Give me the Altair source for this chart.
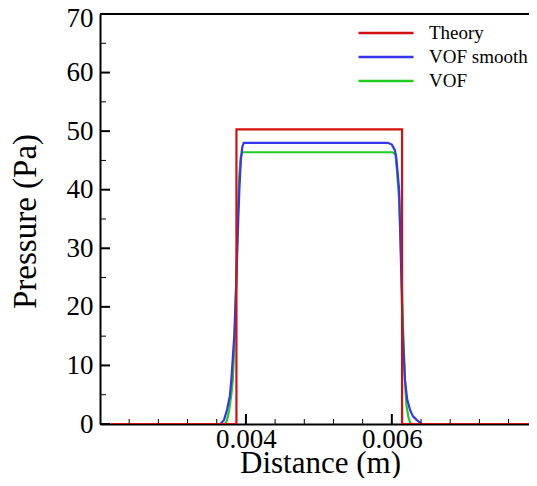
import altair as alt
import pandas as pd

FONT = "Liberation Serif, Times New Roman, DejaVu Serif, serif"

series_names = ["Theory", "VOF smooth", "VOF"]
series_colors = ["#d40f0f", "#3535f0", "#1fcc1f"]

theory_x = [0.00215, 0.00387, 0.00387, 0.00614, 0.00614, 0.0080]
theory_p = [0, 0, 50.3, 50.3, 0, 0]

smooth_x = [0.00215, 0.00365, 0.00370, 0.00374, 0.00378, 0.00380, 0.00384, 0.00387,
            0.00389, 0.00391, 0.00393, 0.00395, 0.00397, 0.005945, 0.00600, 0.00604,
            0.00606, 0.00610, 0.00613, 0.00615, 0.00618, 0.00621, 0.00625, 0.00629,
            0.00634, 0.00641, 0.0080]
smooth_p = [0, 0, 0.7, 2.4, 4.8, 7.5, 15, 25,
            33, 40, 45, 47.3, 48.0, 48.0, 47.7, 46.8,
            45.6, 40, 25, 15, 7.5, 4.2, 2.4, 1.3,
            0.7, 0, 0]

vof_x = [0.00215, 0.00371, 0.00374, 0.00377, 0.00380, 0.00382, 0.00385, 0.00387,
         0.00389, 0.00391, 0.00393, 0.00395, 0.00601, 0.00605, 0.00607, 0.00610,
         0.00613, 0.00615, 0.00618, 0.00620, 0.00623, 0.00626, 0.0080]
vof_p = [0, 0, 0.6, 2.4, 5, 7.5, 16, 26,
         36, 42.5, 45.6, 46.4, 46.4, 46.0, 43.4, 38.3,
         28, 17.8, 7.5, 3.2, 1, 0, 0]

x_labels = [0.004, 0.006]
x_major = [0.002, 0.004, 0.006]
x_minor = [0.0024, 0.0028, 0.0032, 0.0036, 0.0044, 0.0048, 0.0052, 0.0056,
           0.0064, 0.0068, 0.0072, 0.0076]
y_major = [0, 10, 20, 30, 40, 50, 60, 70]
y_minor = [5, 15, 25, 35, 45, 55, 65]

rows = []
for name, xs_, ps_ in [("Theory", theory_x, theory_p),
                       ("VOF smooth", smooth_x, smooth_p),
                       ("VOF", vof_x, vof_p)]:
    for i, (a, b) in enumerate(zip(xs_, ps_)):
        rows.append({"series": name, "x": a, "p": b, "i": i})
df = pd.DataFrame(rows)

W, H = 429, 410
xscale = alt.Scale(domain=[0.002, 0.00788], nice=False, zero=False)
yscale = alt.Scale(domain=[0, 70], nice=False, zero=False)

x_axis = alt.Axis(values=x_labels, format=".3f", title="Distance (m)", ticks=False,
                  grid=False, domain=True, domainColor="black", domainWidth=2,
                  labelPadding=2, labelFont=FONT, labelFontSize=27, labelColor="black",
                  titleFont=FONT, titleFontSize=31, titleFontWeight="normal",
                  titleColor="black", titleBaseline="alphabetic", titleY=48,
                  titleX=220, labelOverlap=False, labelFlush=False)
y_axis = alt.Axis(values=y_major, format="d", title="Pressure (Pa)", ticks=False,
                  grid=False, domain=True, domainColor="black", domainWidth=2,
                  labelPadding=7, labelFont=FONT, labelFontSize=27, labelColor="black",
                  labelOffset={"condition": {"test": "datum.value == 70", "value": 4},
                               "value": 0},
                  titleFont=FONT, titleFontSize=33, titleFontWeight="normal",
                  titleColor="black", titleBaseline="alphabetic", titleX=-65,
                  titleY=H / 2 + 2, labelOverlap=False, labelFlush=False)

color = alt.Color("series:N",
                  scale=alt.Scale(domain=series_names, range=series_colors),
                  legend=alt.Legend(title=None, orient="none", legendX=257, legendY=7,
                                    symbolType="stroke", symbolSize=3025,
                                    symbolStrokeWidth=2.5, clipHeight=24,
                                    labelFont=FONT, labelFontSize=19, labelOffset=14,
                                    labelColor="black", rowPadding=0, padding=0))


def line_layer(name):
    return alt.Chart(df).transform_filter(alt.datum.series == name).mark_line(
        strokeWidth=2.2, clip=True
    ).encode(
        x=alt.X("x:Q", scale=xscale, axis=x_axis),
        y=alt.Y("p:Q", scale=yscale, axis=y_axis),
        color=color,
        order="i:Q",
    )


def ytick_layer(vals, length, width):
    return alt.Chart(pd.DataFrame({"v": vals})).mark_rule(
        color="black", strokeWidth=width
    ).encode(y=alt.Y("v:Q", scale=yscale, axis=y_axis), x=alt.value(0), x2=alt.value(length))


def xtick_layer(vals, length, width):
    return alt.Chart(pd.DataFrame({"v": vals})).mark_rule(
        color="black", strokeWidth=width, clip=True
    ).encode(x=alt.X("v:Q", scale=xscale, axis=x_axis), y=alt.value(H), y2=alt.value(H - length))


top_frame = alt.Chart(pd.DataFrame({"a": [0]})).mark_rule(
    color="black", strokeWidth=2
).encode(x=alt.value(0), x2=alt.value(W), y=alt.value(0))

chart = alt.layer(
    line_layer("VOF"),
    line_layer("VOF smooth"),
    line_layer("Theory"),
    ytick_layer(y_major, 10, 2),
    ytick_layer(y_minor, 6, 1),
    xtick_layer(x_major, 10, 2),
    xtick_layer(x_minor, 5, 1),
    top_frame,
).properties(
    width=W, height=H,
    autosize=alt.AutoSizeParams(type="none"),
    padding={"left": 92, "top": 6, "right": 0, "bottom": 54},
).configure_view(stroke=None)

chart.save("out.html", embed_options={"renderer": "svg", "actions": False})
